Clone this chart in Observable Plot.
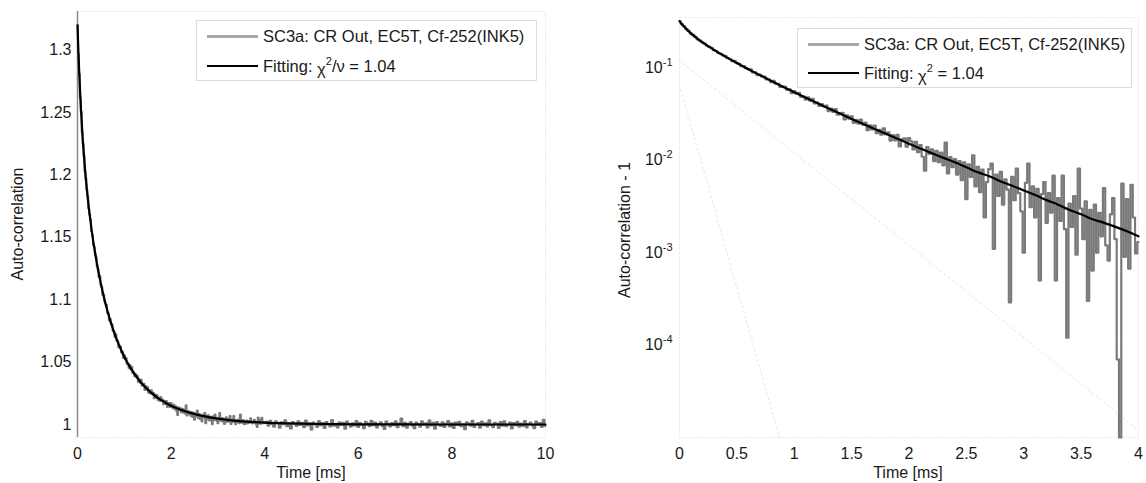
<!DOCTYPE html>
<html>
<head>
<meta charset="utf-8">
<script src="https://cdn.jsdelivr.net/npm/d3@7"></script>
<script src="https://cdn.jsdelivr.net/npm/@observablehq/plot@0.6"></script>
<style>
  html, body { margin: 0; padding: 0; background: #fff; }
  #wrap { position: relative; width: 1146px; height: 483px; overflow: hidden; font-family: "Liberation Sans", Arial, sans-serif; color: #1a1a1a; }
  #left, #right { position: absolute; top: 0; }
  #left { left: 0; }
  #right { left: 575px; }
  .legend { position: absolute; background: #fff; border: 1px solid #dcdcdc; box-sizing: border-box; }
  .legend .sample { position: absolute; }
  .legend .txt { position: absolute; font-size: 16.5px; line-height: 18px; white-space: nowrap; color: #1a1a1a; }
  .chi { position: relative; top: 3px; }
  sup { font-size: 11px; vertical-align: 7px; line-height: 0; }
  .title { position: absolute; font-size: 16px; line-height: 18px; white-space: nowrap; color: #1a1a1a; transform: translate(-50%, -50%); }
  .title.rot { transform: translate(-50%, -50%) rotate(-90deg); }
</style>
</head>
<body>
<div id="wrap">
  <div id="left"></div>
  <div id="right"></div>
  <div class="title" style="left:311px;top:473px">Time [ms]</div>
  <div class="title" style="left:908px;top:473px">Time [ms]</div>
  <div class="title rot" style="left:18px;top:224px">Auto-correlation</div>
  <div class="title rot" style="left:625px;top:230px">Auto-correlation - 1</div>
  <div class="legend" style="left:196px;top:20px;width:341px;height:61px">
    <div class="sample" style="left:10px;top:14px;width:51px;height:3px;background:#a8a8a8"></div>
    <div class="txt" style="left:66px;top:6px">SC3a: CR Out, EC5T, Cf-252(INK5)</div>
    <div class="sample" style="left:10px;top:44px;width:51px;height:2px;background:#000"></div>
    <div class="txt" style="left:66px;top:36px">Fitting: <span class="chi">χ</span><sup>2</sup>/ν = 1.04</div>
  </div>
  <div class="legend" style="left:797px;top:28px;width:335px;height:60px">
    <div class="sample" style="left:10px;top:14px;width:51px;height:3px;background:#a8a8a8"></div>
    <div class="txt" style="left:66px;top:6px">SC3a: CR Out, EC5T, Cf-252(INK5)</div>
    <div class="sample" style="left:10px;top:43px;width:51px;height:2px;background:#000"></div>
    <div class="txt" style="left:66px;top:35px">Fitting: <span class="chi">χ</span><sup>2</sup> = 1.04</div>
  </div>
</div>
<script>
// Measured auto-correlation minus 1, in units of 1e-4, every 0.02 ms from 0 to 4 ms
const excessFine = [
  3200, 2970, 2810, 2622, 2507, 2341, 2251, 2156, 2028, 1972,
  1881, 1830, 1731, 1683, 1643, 1549, 1519, 1436, 1423, 1364,
  1340, 1269, 1245, 1183, 1188, 1121, 1103, 1039, 1043, 988,
  968, 959, 894, 891, 833, 846, 806, 804, 749, 747,
  701, 723, 673, 672, 620, 629, 623, 578, 583, 533,
  558, 524, 534, 485, 490, 453, 478, 441, 462, 412,
  421, 386, 405, 381, 391, 340, 362, 334, 358, 311,
  324, 326, 276, 306, 282, 298, 254, 274, 248, 275,
  243, 255, 211, 239, 215, 237, 196, 213, 189, 221,
  190, 200, 163, 187, 164, 188, 141, 168, 172, 140,
  173, 160, 131, 158, 122, 146, 109, 77, 139, 117,
  131, 98, 126, 95, 121, 88, 155, 72, 108, 84,
  103, 70, 98, 61, 95, 38, 90, 66, 113, 52,
  85, 45, 79, 24, 58, 80, 92, 11, 70, 41,
  75, 33, 62, 48, 2.9, 66, 37, 81, 44, 28,
  10, 57, 92, 31, 52, 24, 49, 5, 43, 58,
  21, 44, 27, 68, 5, 39, 22, 68, 18, 1.2,
  34, 19, 41, 9.5, 81, 30, 14, 36, 3, 29,
  6.4, 33, 10, 27, 15, 50, 12, 8.2, 26, 39,
  14, 0.7, -20, 56, 9, 38, 6.7, 54, 24, 9.8,
  13
];
// Same quantity (units of 1e-4), every 0.04 ms from 4.04 to 10 ms
const excessCoarse = [
  22, -9, 31, 4, -18, 27, 12, -25, 18, 2,
  35, -14, 9, -31, 20, 6, -12, 26, -4, 15,
  -22, 33, -8, 11, -40, 17, 3, -19, 28, -6,
  12, -27, 21, 1, -15, 36, -10, 7, -23, 19,
  -3, 14, -33, 24, 5, -17, 10, -8, 29, -20,
  13, -1, -29, 22, 8, -14, 31, -6, 16, -24,
  4, 19, -11, -36, 25, 2, -16, 12, -5, 27,
  -21, 9, 48, -13, 15, -26, 6, 20, -9, -30,
  17, 3, -18, 26, -2, 11, -23, 32, -7, 14,
  -34, 21, 0, -12, 18, -20, 7, 28, -15, 10,
  -27, 16, -4, 23, -13, 5, -38, 19, 8, -10,
  30, -19, 2, 13, -25, 24, -6, 11, -16, 34,
  -3, -21, 15, 6, -28, 20, -9, 27, -14, 1,
  17, -32, 12, -5, 22, -18, 9, -11, 29, -24,
  4, 16, -7, -30, 25, -2, 13, -20, 38, -12
];
// Fitted curve (auto-correlation minus 1, units of 1e-4)
const fitTime = [0, 0.02, 0.04, 0.06, 0.08, 0.1, 0.15, 0.2, 0.3, 0.4, 0.5, 0.6, 0.7, 0.8, 0.9,
  1.0, 1.1, 1.2, 1.3, 1.4, 1.5, 1.6, 1.7, 1.8, 1.9, 2.0, 2.1, 2.2, 2.3, 2.4, 2.5, 2.6, 2.7, 2.8, 2.9,
  3.0, 3.1, 3.2, 3.3, 3.4, 3.5, 3.6, 3.7, 3.8, 3.9, 4.0, 4.5, 5, 5.5, 6, 7, 8, 9, 10];
const fitExcess = [3200, 2982, 2795, 2630, 2487, 2358, 2095, 1885, 1564, 1322, 1127, 966, 833, 721, 625,
  544, 474, 415, 363, 319, 280, 247, 218, 193, 171, 151, 134, 119, 106, 95, 84, 74, 67, 59, 53,
  47, 42, 37, 33, 29, 26, 23, 21, 19, 17, 15, 8.5, 4.8, 2.7, 1.6, 0.5, 0.2, 0.1, 0];
// Faint component lines on the log panel (time in ms, value)
const compATime = [0, 4];
const compAValue = [0.12, 1.2e-5];
const compBTime = [0, 0.87];
const compBValue = [0.065, 1e-5];

const leftYTicks = [1, 1.05, 1.1, 1.15, 1.2, 1.25, 1.3];
const leftXTicks = [0, 2, 4, 6, 8, 10];
const rightXTicks = [0, 0.5, 1, 1.5, 2, 2.5, 3, 3.5, 4];
const rightYTicks = [1e-4, 1e-3, 1e-2, 1e-1];

const unit = 1e-4;
const measured = [
  ...excessFine.map((v, i) => ({t: +(i * 0.02).toFixed(2), v: v * unit})),
  ...excessCoarse.map((v, i) => ({t: +(4.04 + i * 0.04).toFixed(2), v: v * unit}))
];
const fit = fitTime.map((t, i) => ({t, v: fitExcess[i] * unit}));
const compA = compATime.map((t, i) => ({t, v: compAValue[i]}));
const compB = compBTime.map((t, i) => ({t, v: compBValue[i]}));

const font = "'Liberation Sans', Arial, sans-serif";
const style = {fontFamily: font, fontSize: "16px", color: "#1a1a1a", background: "transparent", overflow: "visible"};
const dataColor = "#7a7a7a";

const left = Plot.plot({
  width: 575, height: 483,
  marginLeft: 77, marginRight: 30, marginTop: 11, marginBottom: 46,
  style,
  x: {domain: [0, 10], ticks: leftXTicks, tickFormat: d => String(d), label: null, tickSize: 0, tickPadding: 10},
  y: {domain: [0.9896, 1.331], ticks: leftYTicks, tickFormat: d => String(+d.toFixed(2)), label: null, tickSize: 0, tickPadding: 6},
  marks: [
    Plot.frame({stroke: "#d4d4d4", strokeDasharray: "1,2"}),
    Plot.ruleX([0], {stroke: "#8a8a8a", strokeWidth: 1.5}),
    Plot.line(measured, {x: "t", y: d => 1 + d.v, stroke: dataColor, strokeWidth: 2, curve: "step"}),
    Plot.line(fit, {x: "t", y: d => 1 + d.v, stroke: "#000", strokeWidth: 2.2, curve: "monotone-x"})
  ]
});
document.getElementById("left").appendChild(left);

const floor = 1e-5;
const right = Plot.plot({
  width: 571, height: 483,
  marginLeft: 104, marginRight: 8, marginTop: 17, marginBottom: 46,
  style,
  x: {domain: [0, 4], ticks: rightXTicks, tickFormat: d => String(d), label: null, tickSize: 0, tickPadding: 10},
  y: {type: "log", domain: [floor, 0.35], ticks: rightYTicks, tickFormat: d => "10|" + Math.round(Math.log10(d)), label: null, tickSize: 0, tickPadding: 7},
  marks: [
    Plot.frame({stroke: "#d4d4d4", strokeDasharray: "1,2"}),
    Plot.line(compA, {x: "t", y: "v", stroke: "#e4e4e4", strokeWidth: 1, strokeDasharray: "2,3"}),
    Plot.line(compB, {x: "t", y: "v", stroke: "#e4e4e4", strokeWidth: 1, strokeDasharray: "2,3"}),
    Plot.line(measured.filter(d => d.t <= 4), {x: "t", y: d => Math.max(d.v, floor), stroke: dataColor, strokeWidth: 2.2, curve: "step"}),
    Plot.line(fit.filter(d => d.t <= 4), {x: "t", y: "v", stroke: "#000", strokeWidth: 2.2, curve: "monotone-x"})
  ]
});
document.getElementById("right").appendChild(right);

// superscript exponents on the log axis labels
for (const t of right.querySelectorAll('g[aria-label="y-axis tick label"] text')) {
  const parts = t.textContent.split("|");
  if (parts.length !== 2) continue;
  t.textContent = parts[0];
  const ts = document.createElementNS("http://www.w3.org/2000/svg", "tspan");
  ts.setAttribute("dy", "-7");
  ts.setAttribute("font-size", "11");
  ts.textContent = parts[1];
  t.appendChild(ts);
}
</script>
</body>
</html>
